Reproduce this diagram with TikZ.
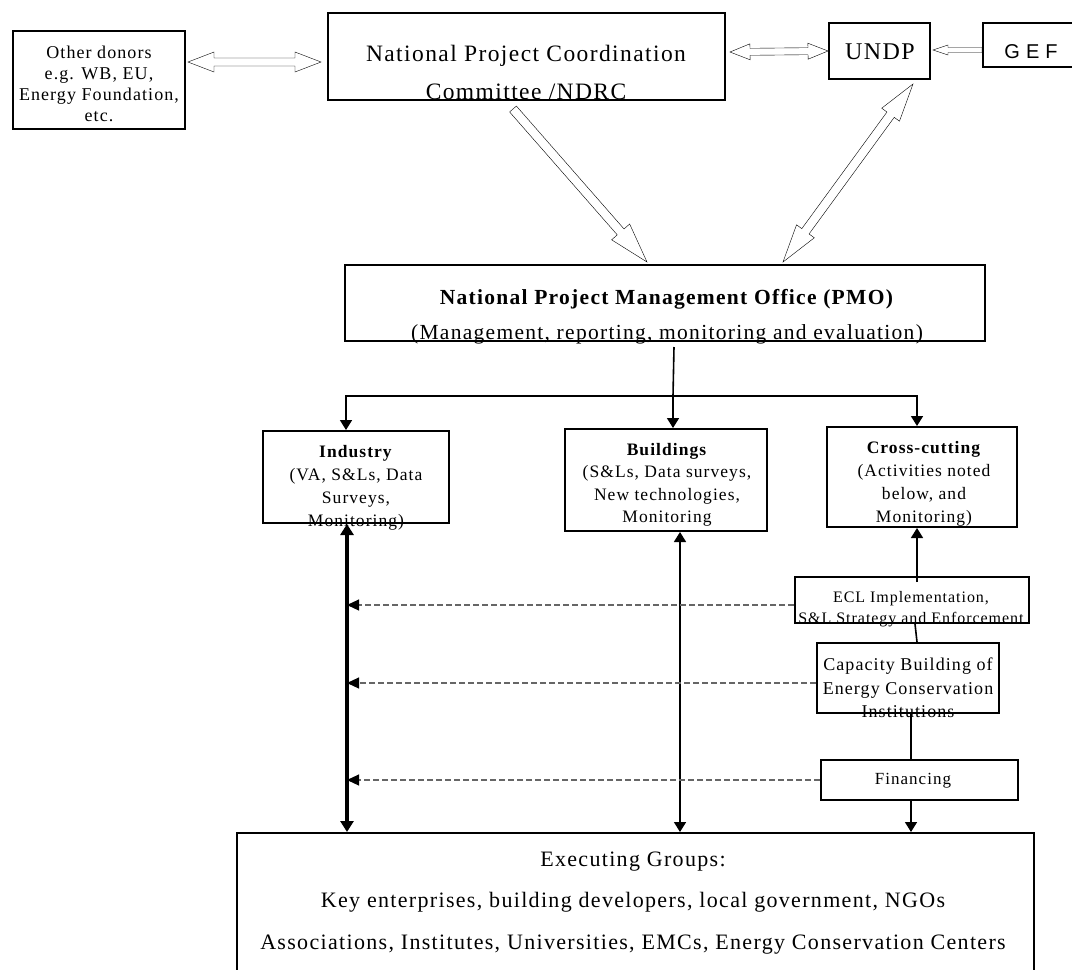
\documentclass[tikz,border=0pt]{standalone}
\usepackage{fontspec}
\setmainfont{Liberation Serif}[LetterSpace=6]
\newfontfamily\geffont{Liberation Sans}[LetterSpace=30]
\usetikzlibrary{arrows.meta,calc}
\begin{document}
\begin{tikzpicture}[x=1pt,y=-1pt,
    box/.style={draw, line width=2pt, inner sep=0pt},
    txt/.style={align=center, inner sep=0pt},
    hl/.style={shift={(\p1)},rotate=\n1},
    % hollow arrow: shaft half width, head length, head half width
    hollow/.style n args={3}{line width=1.6pt, to path={
      let \p1=(\tikztostart), \p2=(\tikztotarget),
          \n1={atan2(\y2-\y1,\x2-\x1)}, \n2={veclen(\x2-\x1,\y2-\y1)} in
      ([hl]0,#1) -- ([hl]\n2-#2,#1) -- ([hl]\n2-#2,#3) -- (\p2)
      -- ([hl]\n2-#2,-#3) -- ([hl]\n2-#2,-#1) -- ([hl]0,-#1) -- cycle}},
    hollowtwo/.style n args={3}{line width=1.6pt, to path={
      let \p1=(\tikztostart), \p2=(\tikztotarget),
          \n1={atan2(\y2-\y1,\x2-\x1)}, \n2={veclen(\x2-\x1,\y2-\y1)} in
      ([hl]#2,#1) -- ([hl]\n2-#2,#1) -- ([hl]\n2-#2,#3) -- (\p2)
      -- ([hl]\n2-#2,-#3) -- ([hl]\n2-#2,-#1) -- ([hl]#2,-#1)
      -- ([hl]#2,-#3) -- (\p1) -- ([hl]#2,#3) -- cycle}},
    arr/.style={line width=1.6pt, -{Triangle[length=10pt,width=12pt]}},
    dasharr/.style={line width=1.1pt, black!60, dash pattern=on 6pt off 3pt,
      -{Triangle[length=12pt,width=11pt,color=black]}}]
  \useasboundingbox (0,0) rectangle (1072,970);
  % top row
  \node[box, minimum width=172pt, minimum height=98pt] (donors) at (99,80) {};
  \node[txt, font=\fontsize{18}{21}\selectfont] (donorstxt) at (99,84)
    {Other donors\\e.g. WB, EU,\\Energy Foundation,\\etc.};
  \node[box, minimum width=397pt, minimum height=87pt] (npcc) at (526.5,56.5) {};
  \node[txt, font=\fontsize{23.5}{38}\selectfont] (npcctxt) at (526,72)
    {National Project Coordination\\Committee /NDRC};
  \node[box, minimum width=101pt, minimum height=56pt] (undp) at (879.5,51) {};
  \node[txt, font=\fontsize{24}{26}\selectfont] (undptxt) at (880,52) {UNDP};
  \node[box, minimum width=104pt, minimum height=44pt] (gef) at (1035,45) {};
  \node[txt, font=\geffont\fontsize{20}{24}\selectfont] (geftxt) at (1031,52) {GEF};
  % PMO
  \node[box, minimum width=640pt, minimum height=76pt] (pmo) at (665,303) {};
  \node[txt, font=\fontsize{21.5}{35}\selectfont] (pmotxt) at (667,317)
    {\textbf{National Project Management Office (PMO)}\\(Management, reporting, monitoring and evaluation)};
  % components
  \node[box, minimum width=186pt, minimum height=92pt] (industry) at (356,477) {};
  \node[txt, font=\fontsize{17.5}{23}\selectfont] (industrytxt) at (356,488)
    {\textbf{Industry}\\(VA, S\&Ls, Data\\Surveys,\\Monitoring)};
  \node[box, minimum width=202pt, minimum height=102pt] (buildings) at (666,480) {};
  \node[txt, font=\fontsize{17.5}{22.5}\selectfont] (buildingstxt) at (667,485)
    {\textbf{Buildings}\\(S\&Ls, Data surveys,\\New technologies,\\Monitoring};
  \node[box, minimum width=190pt, minimum height=100pt] (crosscut) at (922,477) {};
  \node[txt, font=\fontsize{17.5}{23}\selectfont] (crosscuttxt) at (924,484)
    {\textbf{Cross-cutting}\\(Activities noted\\below, and\\Monitoring)};
  % cross-cutting activities
  \node[box, minimum width=234pt, minimum height=46pt] (ecl) at (912,600) {};
  \node[txt, font=\fontsize{16}{21}\selectfont] (ecltxt) at (911,609)
    {ECL Implementation,\\S\&L Strategy and Enforcement};
  \node[box, minimum width=182pt, minimum height=70pt] (capacity) at (908,678) {};
  \node[txt, font=\fontsize{18}{23.5}\selectfont] (capacitytxt) at (908,688)
    {Capacity Building of\\Energy Conservation\\Institutions};
  \node[box, minimum width=197pt, minimum height=40pt] (financing) at (919.5,780) {};
  \node[txt, font=\fontsize{17}{20}\selectfont] (financingtxt) at (913,781) {Financing};
  % executing groups
  \node[box, minimum width=797pt, minimum height=147pt] (exec) at (635.5,906.5) {};
  \node[txt, font=\fontsize{22}{41.5}\selectfont] (exectxt) at (633,903)
    {Executing Groups:\\Key enterprises, building developers, local government, NGOs\\Associations, Institutes, Universities, EMCs, Energy Conservation Centers};

  % hollow arrows on top
  \draw ($(donors.east)+(2,-18)$) to[hollowtwo={4}{26}{10}] ($(npcc.west)+(-6,5.5)$);
  \draw ($(npcc.east)+(4,-4.5)$) to[hollowtwo={3.5}{20}{8}] (undp.west);
  \draw ($(gef.west)+(0,5)$) to[hollow={2.5}{15}{5}] ($(undp.east)+(2,-1)$);
  \draw ($(npcc.south)+(-13.5,8)$) to[hollow={4.5}{40}{12}] ($(pmo.north)+(-18,-2)$);
  \draw ($(undp.south)+(33.5,4)$) to[hollowtwo={4.5}{38}{11}] ($(pmo.north)+(118,-2)$);

  % PMO to components
  \coordinate (split) at ($(pmo.south)+(8,54)$);
  \draw[line width=1.6pt] ($(pmo.south)+(9,5)$) -- (split);
  \draw[arr] (split) -| ($(industry.north)+(-10,0)$);
  \draw[arr] (split) -| ($(crosscut.north)+(-5,0)$);
  \draw[arr] (split) -- (split |- buildings.north);

  % links to executing groups
  \coordinate (indline) at ($(industry.south)+(-9,0)$);
  \coordinate (bldline) at ($(buildings.south)+(14,0)$);
  \coordinate (finline) at ($(financing.south)+(-8.5,0)$);
  \draw[line width=4pt, {Triangle[length=11pt,width=13pt]}-{Triangle[length=11pt,width=13pt]}]
    (indline) -- (indline |- exec.north);
  \draw[line width=1.6pt, {Triangle[length=10pt,width=12pt]}-{Triangle[length=10pt,width=12pt]}]
    (bldline) -- (bldline |- exec.north);
  \draw[arr] (finline) -- (finline |- exec.north);

  % cross-cutting chain
  \draw[arr] ($(ecl.north)+(5,6)$) -- ($(crosscut.south)+(-5,0)$);
  \draw[line width=1.6pt] ($(ecl.south)+(3,0)$) -- ($(capacity.north)+(9,0)$);
  \draw[line width=1.6pt] ($(capacity.south)+(3,0)$) -- ($(financing.north)+(-8.5,0)$);

  % dashed support lines
  \draw[dasharr] ($(ecl.west)+(0,5)$) coordinate (d1) -- (d1 -| indline);
  \draw[dasharr] ($(capacity.west)+(0,5)$) coordinate (d2) -- (d2 -| indline);
  \draw[dasharr] (financing.west) -- (financing.west -| indline);
\end{tikzpicture}
\end{document}
